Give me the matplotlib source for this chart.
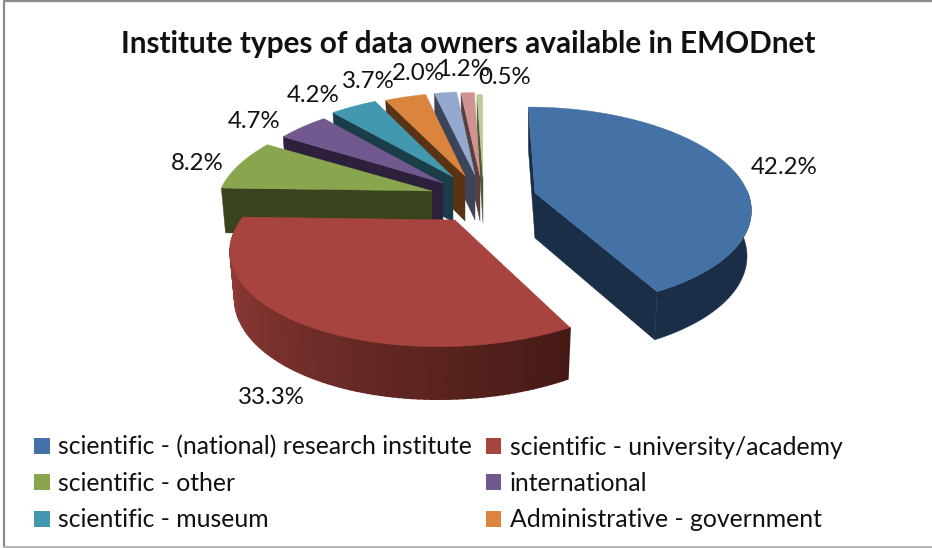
import numpy as np
import matplotlib
matplotlib.use("Agg")
import matplotlib.pyplot as plt
from matplotlib.patches import Patch
from matplotlib.colors import to_rgb

TITLE = "Institute types of data owners available in EMODnet"
names = ["scientific - (national) research institute", "scientific - university/academy",
         "scientific - other", "international", "scientific - museum", "Administrative - government"]
values = [42.2, 33.3, 8.2, 4.7, 4.2, 3.7, 2.0, 1.2, 0.5]
top_colors = ["#4472A6", "#A8443F", "#89A54E", "#71588F", "#4198AF", "#DB843D", "#93A9CF", "#D19392", "#B9CD96"]
wall_colors = ["#1B2E47", "#451A16", "#3A431F", "#2D203B", "#1A3D47", "#5A3315", "#3C4558", "#5A3F3F", "#4B5A38"]

# exploded-slice placement: apex x, apex y, rx, ry, perspective, vanishing x
place = [(535, 193, 213, 98, .14, 480), (455, 220, 214, 95, .25, 505), (432, 191, 212, 96, .15, 480),
         (443, 183, 205, 96, .15, 480), (453, 177, 205, 96, .15, 480), (465, 176, 205, 96, .15, 480),
         (475, 175, 205, 96, .15, 480), (480, 176, 205, 96, .15, 480), (483, 178, 205, 96, .15, 480)]
label_xy = [(784, 168), (271, 397), (197, 163), (254, 121), (313, 96), (368, 81), (418, 73), (463, 69), (505, 78)]
DEPTH = 45

fig = plt.figure(figsize=(9.32, 5.48), dpi=100)
plt.rcParams['font.family'] = ['Lato', 'DejaVu Sans']
ax = fig.add_axes([0, 0, 1, 1])
ax.set_xlim(0, 932)
ax.set_ylim(548, 0)
ax.axis("off")

edges = np.concatenate([[0], np.cumsum(values) / sum(values) * 360])


def proj(theta, p, h=0.0):
    ax0, ay0, rx, ry, k, vx = p
    t = np.radians(theta)
    X, Y = np.sin(t), -np.cos(t)
    s = 1 / (1 - k * Y)
    x = ax0 + rx * X * s + (ax0 - vx) * (s - 1)
    y = ay0 + ry * Y * s + h * DEPTH * (1 + (s - 1) * .5)
    if h:
        x = ax0 + (x - ax0) * .98
    return x, y


for i in [8, 7, 6, 5, 4, 3, 2, 0, 1]:
    p = place[i]
    a, b = edges[i], edges[i + 1]
    top, wall = np.array(to_rgb(top_colors[i])), np.array(to_rgb(wall_colors[i]))
    th = np.linspace(a, b, 90)
    z_wall = 11 if i == 1 else 10 if i == 0 else 10 - i
    z_top = z_wall + .5
    # radial walls
    for e in ([a, b] if i == 0 else [a] if i > 1 else []):
        cx, cy = proj(e, p)
        bx, by = proj(e, p, 1)
        ax.fill([cx, p[0], p[0], bx], [cy, p[1], p[1] + DEPTH, by], color=wall, lw=.3, zorder=z_wall)
    # outer wall
    if i == 0:
        tf = th[-np.cos(np.radians(th)) > -0.03]
        xt, yt = proj(tf, p)
        xb, yb = proj(tf, p, 1)
        ax.fill(np.r_[xt, xb[::-1]], np.r_[yt, yb[::-1]], color=wall, lw=.3, zorder=z_wall)
    if i == 1:
        for j in range(len(th) - 1):
            x0, y0 = proj(th[j], p)
            x1, y1 = proj(th[j + 1], p)
            x2, y2 = proj(th[j + 1], p, 1)
            x3, y3 = proj(th[j], p, 1)
            f = (th[j] - a) / (b - a)
            c = tuple(wall + (top * .85 - wall) * min(1, f * 1.25))
            ax.fill([x0, x1, x2, x3], [y0, y1, y2, y3], facecolor=c, edgecolor=c, lw=1.2, zorder=z_wall)
    xs, ys = proj(th, p)
    ax.fill(np.r_[p[0], xs], np.r_[p[1], ys], color=top, lw=.3, zorder=z_top)

for v, (x, y) in zip(values, label_xy):
    ax.text(x, y, f"{v:.1f}%", ha="center", va="center", fontsize=17.3, color="#111111", zorder=20)

ax.text(468, 44, TITLE, ha="center", va="center", fontsize=21.4, fontweight="bold", color="#111111")

order = [0, 2, 4, 1, 3, 5]
handles = [Patch(facecolor=top_colors[i], edgecolor="none", label=names[i]) for i in order]
ax.legend(handles=handles, ncol=2, loc="upper left", bbox_to_anchor=(27 / 932, 1 - 428 / 548), frameon=False,
          fontsize=17.8, handlelength=.62, handleheight=.62, handletextpad=.35, labelspacing=.54, columnspacing=.56,
          labelcolor="#111111", borderpad=.3, borderaxespad=0)

# chart frame
ax.plot([3.5, 3.5, 932], [548, 0.7, 0.7], color="#8C8C8C", lw=1.6, clip_on=False)
ax.plot([3.5, 932], [547, 547], color="#B4B4B4", lw=1.4, clip_on=False)

fig.savefig("out.png", dpi=100)
